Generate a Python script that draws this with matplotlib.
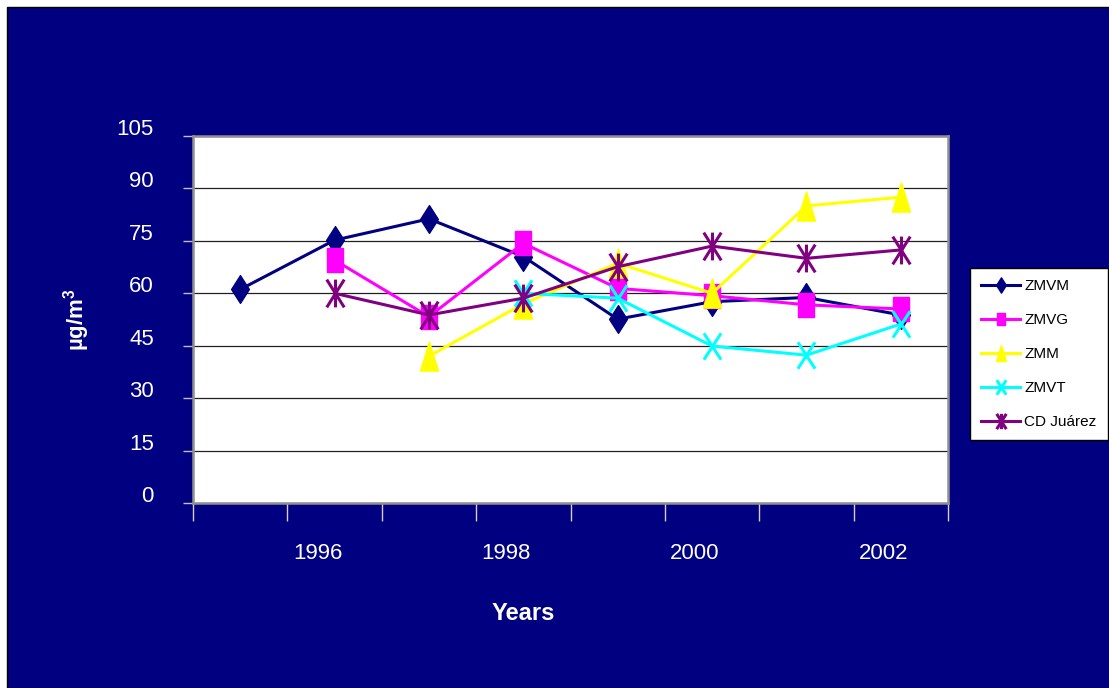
import numpy as np
import matplotlib
matplotlib.use('Agg')
import matplotlib.pyplot as plt
from matplotlib.path import Path
from matplotlib.patches import Rectangle
from matplotlib.transforms import ScaledTranslation

plt.rcParams['font.family'] = ['Liberation Sans', 'DejaVu Sans']
plt.rcParams['mathtext.fontset'] = 'custom'
plt.rcParams['mathtext.rm'] = 'Liberation Sans'
plt.rcParams['mathtext.bf'] = 'Liberation Sans:bold'

# ---- data ----
years = [1995, 1996, 1997, 1998, 1999, 2000, 2001, 2002]
zmvm = [61.1, 75.2, 81.3, 70.5, 52.6, 57.6, 58.8, 53.8]
zmvg = [np.nan, 69.5, 53.3, 74.3, 61.4, 59.3, 56.7, 55.5]
zmm = [np.nan, np.nan, 42.0, 57.0, 68.6, 60.0, 85.0, 87.5]
zmvt = [np.nan, np.nan, np.nan, 60.0, 58.6, 44.9, 42.3, 51.2]
juarez = [np.nan, 60.0, 53.8, 58.6, 67.6, 73.5, 70.0, 72.4]
labels_shown = ['1996', '1998', '2000', '2002']

# ---- markers, stretched vertically like the original ----
diamond = Path([(0, 1), (0.64, 0), (0, -1), (-0.64, 0), (0, 1)], closed=True)
rect = Path([(-0.67, -1), (0.67, -1), (0.67, 1), (-0.67, 1), (-0.67, -1)], closed=True)
tri = Path([(-0.62, -1), (0.62, -1), (0, 1), (-0.62, -1)], closed=True)
xmark = Path([(-0.65, -1), (0.65, 1), (-0.65, 1), (0.65, -1)],
             [Path.MOVETO, Path.LINETO, Path.MOVETO, Path.LINETO])
star = Path([(-0.63, -1), (0.63, 1), (-0.63, 1), (0.63, -1), (0, -1), (0, 1)],
            [Path.MOVETO, Path.LINETO, Path.MOVETO, Path.LINETO, Path.MOVETO, Path.LINETO])

navy = '#000080'
fig = plt.figure(figsize=(11.09, 6.88), dpi=100)
fig.patch.set_facecolor('white')
# navy slide background with a thin black edge on the top/left
bg = Rectangle((7 / 1109, -0.5), 2, 1.5 - 7 / 688, transform=fig.transFigure,
               facecolor=navy, edgecolor='black', lw=1, zorder=-5)
fig.patches.append(bg)

ax = fig.add_axes([193 / 1109, 185 / 688, 755 / 1109, 367 / 688])
ax.set_facecolor('white')

x = np.arange(len(years))
lw = 2.2
ax.plot(x, zmvm, color=navy, lw=lw, marker=diamond, ms=20, label='ZMVM')
ax.plot(x, zmvg, color='#FF00FF', lw=lw, marker=rect, ms=17, label='ZMVG')
ax.plot(x, zmm, color='#FFFF00', lw=lw, marker=tri, ms=21, label='ZMM')
ax.plot(x, zmvt, color='#00FFFF', lw=lw, marker=xmark, ms=19, mew=2.2,
        mfc='none', label='ZMVT')
ax.plot(x, juarez, color='#800080', lw=lw, marker=star, ms=20, mew=2.2,
        mfc='none', label='CD Juárez')

ax.set_xlim(-0.5, len(years) - 0.5)
ax.set_ylim(0, 105)
ax.set_yticks(np.arange(0, 106, 15))
ax.yaxis.grid(True, color='#202020', lw=0.9)
ax.set_axisbelow(True)

for s in ax.spines.values():
    s.set_color('#909090')
    s.set_linewidth(1.8)

ax.tick_params(axis='y', colors='#c0c0c0', length=7.2, width=1, labelcolor='white',
               labelsize=16, pad=21)
for lab in ax.get_yticklabels():
    lab.set_transform(lab.get_transform() + ScaledTranslation(0, 9 / 100, fig.dpi_scale_trans))

# boundary ticks (major) and year labels (minor)
ax.set_xticks(np.arange(-0.5, len(years), 1.0))
ax.set_xticklabels([])
ax.set_xticks([1, 3, 5, 7], minor=True)
ax.set_xticklabels(labels_shown, minor=True)
ax.tick_params(axis='x', which='major', colors='#d0d0d0', length=13, width=1)
ax.tick_params(axis='x', which='minor', length=0, labelcolor='white', labelsize=16, pad=29)
for lab in ax.xaxis.get_minorticklabels():
    lab.set_transform(lab.get_transform() + ScaledTranslation(-17 / 100, 0, fig.dpi_scale_trans))

ax.set_xlabel('Years', color='white', fontsize=17, fontweight='bold')
ax.xaxis.set_label_coords((523 - 193) / 755, (503 - 614) / 367)
ax.xaxis.label.set_va('center')
ax.set_ylabel(r'µg/m$^{\mathbf{3}}$', color='white', fontsize=16, fontweight='bold')
ax.yaxis.set_label_coords((77 - 193) / 755, (503 - 320) / 367)
ax.yaxis.label.set_va('center')

leg = fig.legend(loc='upper left', bbox_to_anchor=(970 / 1109, (688 - 268) / 688),
                 fontsize=11, frameon=True, fancybox=False, edgecolor='black',
                 framealpha=1, markerscale=0.55, handlelength=2.5, labelspacing=1.3,
                 borderpad=0.75, handletextpad=0.3, borderaxespad=0)
leg.get_frame().set_linewidth(1)

plt.savefig('out.png', dpi=100, facecolor=fig.get_facecolor())
plt.close()
